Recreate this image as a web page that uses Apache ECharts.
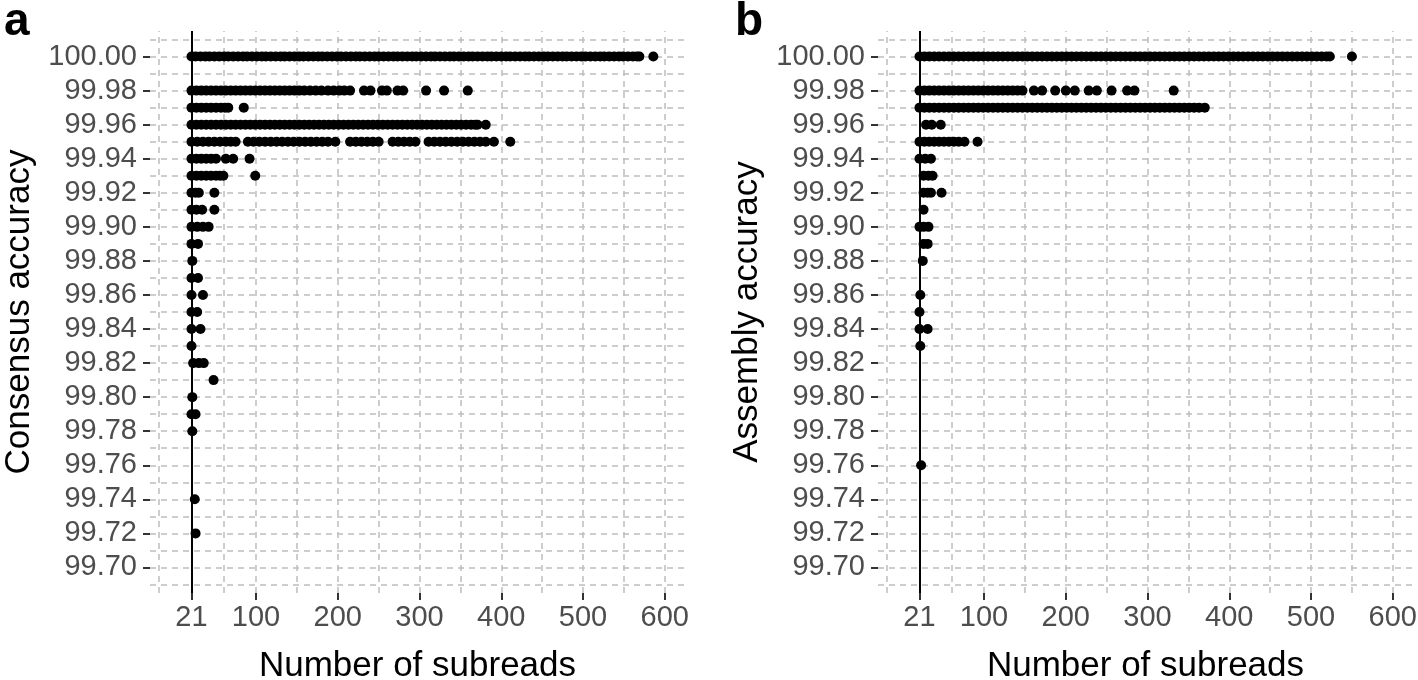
<!DOCTYPE html>
<html><head><meta charset="utf-8">
<script src="https://cdn.jsdelivr.net/npm/echarts@6/dist/echarts.min.js"></script>
<style>html,body{margin:0;padding:0;background:#fff}#c{width:1418px;height:680px}</style>
</head><body><div id="c"></div><script>
// ---- tick / grid values ----
const xMajor = [21, 100, 200, 300, 400, 500, 600];
const xMinor = [-18.5, 60.5, 150, 250, 350, 450, 550];
const yMajor = [100.00, 99.98, 99.96, 99.94, 99.92, 99.90, 99.88, 99.86, 99.84, 99.82, 99.80, 99.78, 99.76, 99.74, 99.72, 99.70];
const yMinor = [100.01, 99.99, 99.97, 99.95, 99.93, 99.91, 99.89, 99.87, 99.85, 99.83, 99.81, 99.79, 99.77, 99.75, 99.73, 99.71, 99.69];
const xRange = [-29.75, 624.75];
const yRange = [99.685, 100.015];
const refLine = 21;

// ---- panel a: consensus accuracy ----
const consensusLevels = [100.00, 99.98, 99.97, 99.96, 99.95, 99.94, 99.93, 99.92, 99.91, 99.90, 99.89, 99.88, 99.87, 99.86, 99.85, 99.84, 99.83, 99.82, 99.81, 99.80, 99.79, 99.78, 99.74, 99.72];
const consensusSubreads = [
  [21,26,32,38,43,49,55,61,66,72,78,84,89,95,101,107,112,118,124,130,135,141,147,153,158,164,170,176,181,187,193,199,204,210,216,222,227,233,239,245,250,256,262,268,273,279,285,291,296,302,308,314,319,325,331,337,342,348,354,360,365,371,377,383,388,394,400,406,411,417,423,429,434,440,446,452,457,463,469,475,480,486,492,498,503,509,515,521,526,532,538,544,549,555,561,566,569,586],
  [21,27,33,39,45,51,57,63,69,75,81,87,93,99,105,111,117,123,129,135,141,147,153,159,166,173,180,188,195,202,208,215,232,240,254,260,273,280,308,330,359],
  [21,27,33,39,45,51,57,62,66,85],
  [21,27,33,39,45,51,57,63,69,75,81,87,93,99,105,111,117,123,129,135,141,147,153,159,165,171,177,183,189,195,201,207,213,219,225,231,237,243,249,255,261,267,273,279,285,291,297,303,309,315,321,327,333,339,345,351,357,363,368,371,381],
  [21,28,35,42,49,56,63,69,75,90,97,104,111,118,125,132,139,146,153,160,167,174,181,188,197,215,222,229,236,243,250,267,274,281,288,295,311,318,325,332,339,346,353,360,367,374,381,391,411],
  [21,27,33,39,45,51,63,72,92],
  [21,27,33,39,45,51,56,60,99],
  [21,26,30,49],
  [21,27,34,49],
  [21,28,35,42],
  [21,29],
  [22],
  [21,29],
  [21,35],
  [21,28],
  [21,32],
  [21],
  [23,30,36],
  [48],
  [22],
  [21,26],
  [22],
  [25],
  [26]
];

// ---- panel b: assembly accuracy ----
const assemblyLevels = [100.00, 99.98, 99.97, 99.96, 99.95, 99.94, 99.93, 99.92, 99.91, 99.90, 99.89, 99.88, 99.86, 99.85, 99.84, 99.83, 99.76];
const assemblySubreads = [
  [21,27,33,39,45,51,57,63,69,75,81,87,93,99,105,111,117,123,129,135,141,147,153,159,165,171,177,183,189,195,201,207,213,219,225,231,237,243,249,255,261,267,273,279,285,291,297,303,309,315,321,327,333,339,345,351,357,363,369,375,381,387,393,399,405,411,417,423,429,435,441,447,453,459,465,471,477,483,489,495,501,507,513,519,523,550],
  [21,27,33,39,45,51,57,63,69,75,81,87,93,99,105,111,117,123,129,135,141,147,161,171,187,200,211,228,238,256,275,284,332],
  [21,27,33,39,45,51,57,63,69,75,81,87,93,99,105,111,117,123,129,135,141,147,153,159,165,171,177,183,189,195,201,207,213,219,225,231,237,243,249,255,261,267,273,279,285,291,297,303,309,315,321,327,333,339,345,351,357,363,370],
  [29,36,47],
  [21,27,33,39,45,51,57,63,69,76,92],
  [21,28,35],
  [26,32,37],
  [26,31,35,48],
  [26],
  [21,26,32],
  [26,31],
  [25],
  [22],
  [21],
  [21,31],
  [22],
  [23]
];

const FONT = '"Liberation Sans", Arial, Helvetica, sans-serif';
function toPoints(levels, subs) {
  const out = [];
  levels.forEach((lv, i) => subs[i].forEach(x => out.push([x, lv])));
  return out;
}
function gridLineData() {
  return xMajor.concat(xMinor).map(v => ({ xAxis: v }))
    .concat(yMajor.concat(yMinor).map(v => ({ yAxis: v })));
}
function xAxisCfg(i) {
  return {
    gridIndex: i, type: 'value', min: xRange[0], max: xRange[1],
    name: 'Number of subreads', nameLocation: 'middle', nameGap: 56,
    nameTextStyle: { color: '#000', fontSize: 35, fontFamily: FONT },
    axisLine: { show: false, onZero: false }, splitLine: { show: false },
    axisTick: { show: true, customValues: xMajor, length: 7, lineStyle: { color: '#333', width: 2 } },
    axisLabel: { customValues: xMajor, margin: 10, color: '#4d4d4d', fontSize: 29, fontFamily: FONT, formatter: v => String(v) }
  };
}
function yAxisCfg(i, title) {
  return {
    gridIndex: i, type: 'value', min: yRange[0], max: yRange[1],
    name: title, nameLocation: 'middle', nameRotate: 90, nameGap: 113,
    nameTextStyle: { color: '#000', fontSize: 35, fontFamily: FONT },
    axisLine: { show: false, onZero: false }, splitLine: { show: false },
    axisTick: { show: true, customValues: yMajor, length: 7, lineStyle: { color: '#333', width: 2 } },
    axisLabel: { customValues: yMajor, margin: 13, color: '#4d4d4d', fontSize: 29, fontFamily: FONT, formatter: v => v.toFixed(2) }
  };
}
function panelSeries(i, levels, subs) {
  return [
    { type: 'scatter', xAxisIndex: i, yAxisIndex: i, data: [], z: 1, silent: true,
      markLine: { silent: true, z: 1, symbol: ['none', 'none'], animation: false, label: { show: false },
        lineStyle: { color: '#bdbdbd', width: 1.5, type: [6, 5] }, data: gridLineData() } },
    { type: 'scatter', xAxisIndex: i, yAxisIndex: i, data: [], z: 2, silent: true,
      markLine: { silent: true, z: 2, symbol: ['none', 'none'], animation: false, label: { show: false },
        lineStyle: { color: '#000', width: 2, type: 'solid' }, data: [{ xAxis: refLine }] } },
    { type: 'scatter', xAxisIndex: i, yAxisIndex: i, z: 5, symbol: 'circle', symbolSize: 10,
      itemStyle: { color: '#000', opacity: 1 }, data: toPoints(levels, subs) }
  ];
}

const chart = echarts.init(document.getElementById('c'), null, { renderer: 'canvas' });
chart.setOption({
  animation: false,
  backgroundColor: '#fff',
  grid: [
    { left: 150, top: 31, width: 535, height: 562, containLabel: false, outerBoundsMode: 'none' },
    { left: 878, top: 31, width: 535, height: 562, containLabel: false, outerBoundsMode: 'none' }
  ],
  xAxis: [xAxisCfg(0), xAxisCfg(1)],
  yAxis: [yAxisCfg(0, 'Consensus accuracy'), yAxisCfg(1, 'Assembly accuracy')],
  series: panelSeries(0, consensusLevels, consensusSubreads).concat(panelSeries(1, assemblyLevels, assemblySubreads)),
  graphic: [
    { type: 'text', left: 4, top: -1, style: { text: 'a', font: 'bold 46px ' + FONT, fill: '#000' } },
    { type: 'text', left: 735, top: -1, style: { text: 'b', font: 'bold 46px ' + FONT, fill: '#000' } }
  ]
});
</script></body></html>
